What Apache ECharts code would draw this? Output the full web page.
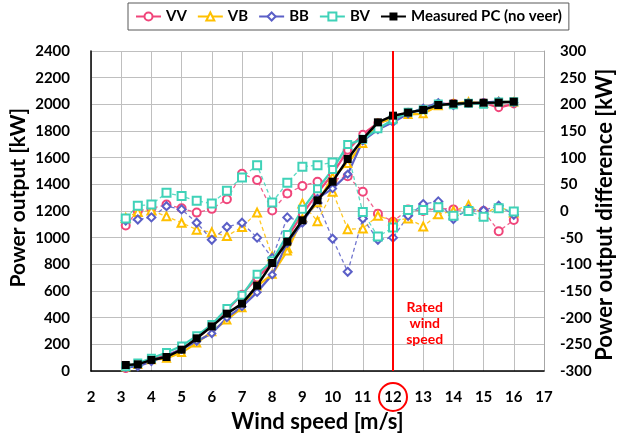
<!DOCTYPE html>
<html>
<head>
<meta charset="utf-8">
<script src="https://cdn.jsdelivr.net/npm/echarts@6/dist/echarts.min.js"></script>
<style>
  html, body { margin: 0; padding: 0; background: #fff; }
  #chart { width: 623px; height: 436px; }
</style>
</head>
<body>
<div id="chart"></div>
<script>
// Wind speed bins [m/s]
const windSpeed = [3.15, 3.55, 4.0, 4.5, 5.0, 5.5, 6.0, 6.5, 7.0, 7.5, 8.0, 8.5, 9.0, 9.5, 10.0, 10.5, 11.0, 11.5, 12.0, 12.5, 13.0, 13.5, 14.0, 14.5, 15.0, 15.5, 16.0];

// Power curves [kW]
const measuredPC = [45, 50, 83, 105, 160, 245, 335, 430, 505, 640, 810, 970, 1130, 1280, 1420, 1590, 1740, 1865, 1915, 1938, 1958, 1995, 2005, 2008, 2012, 2013, 2020];
const powerVV = [18, 50, 88, 117, 165, 242, 339, 452, 575, 698, 811, 1003, 1177, 1335, 1478, 1655, 1776, 1860, 1895, 1941, 1958, 2000, 2008, 2008, 2012, 1975, 2003];
const powerVB = [32, 48, 84, 95, 138, 210, 295, 383, 475, 637, 725, 900, 1144, 1261, 1456, 1556, 1707, 1856, 1897, 1924, 1929, 1989, 2005, 2019, 2007, 2021, 2017];
const powerBB = [27, 34, 71, 114, 163, 223, 281, 400, 483, 590, 722, 958, 1110, 1295, 1368, 1476, 1726, 1811, 1865, 1929, 1971, 2013, 1990, 2011, 2013, 2023, 2013];
const powerBV = [31, 60, 95, 139, 188, 264, 349, 468, 568, 726, 826, 1023, 1213, 1366, 1511, 1698, 1738, 1817, 1884, 1940, 1960, 2002, 1996, 2008, 2001, 2018, 2019];

// Difference to the measured power curve [kW]
const diffVV = [-27, 0, 5, 12, 5, -3, 4, 22, 70, 58, 1, 33, 47, 55, 58, 65, 36, -5, -20, 3, 0, 5, 3, 0, 0, -38, -17];
const diffVB = [-13, -2, 1, -10, -22, -35, -40, -47, -30, -3, -85, -70, 14, -19, 36, -34, -33, -9, -18, -14, -29, -6, 0, 11, -5, 8, -3];
const diffBB = [-18, -16, -12, 9, 3, -22, -54, -30, -22, -50, -88, -12, -20, 15, -52, -114, -14, -54, -50, -9, 13, 18, -15, 3, 1, 10, -7];
const diffBV = [-14, 10, 12, 34, 28, 19, 14, 38, 63, 86, 16, 53, 83, 86, 91, 108, -2, -48, -31, 2, 2, 7, -9, 0, -11, 5, -1];

const ratedWindSpeed = 12;

const FONT = 'Lato, "Open Sans", "Liberation Sans", sans-serif';
const COLORS = { VV: '#f0457a', VB: '#ffc000', BB: '#5b5fc7', BV: '#3fd2b8', PC: '#000000' };

const pairs = (ys) => windSpeed.map((x, i) => [x, ys[i]]);

function powerSeries(name, ys, symbol, color) {
  return {
    name, type: 'line', data: pairs(ys), xAxisIndex: 0, yAxisIndex: 0,
    symbol, symbolSize: 7, z: 3,
    lineStyle: { color, width: 2.2 },
    itemStyle: { color, borderColor: color, borderWidth: 1.5 },
    emphasis: { disabled: true }
  };
}
function diffSeries(name, ys, symbol, color) {
  return {
    name, type: 'line', data: pairs(ys), xAxisIndex: 0, yAxisIndex: 1,
    symbol, symbolSize: 8, z: 1,
    lineStyle: { color, width: 1.3, type: [4, 3], opacity: 0.85 },
    itemStyle: { color, borderColor: color, borderWidth: 1.5 },
    emphasis: { disabled: true }
  };
}

const chart = echarts.init(document.getElementById('chart'), null, { renderer: 'canvas' });

const axisLabelStyle = {
  color: '#000', fontFamily: FONT, fontWeight: 'bold', fontSize: 15,
  formatter: (v) => String(v)
};

chart.setOption({
  animation: false,
  backgroundColor: '#fff',
  textStyle: { fontFamily: FONT },
  grid: { left: 91, right: 79, top: 51, bottom: 65, containLabel: false, outerBoundsMode: 'none' },
  legend: {
    left: 128, top: 3,
    padding: [6, 7, 6, 7],
    borderColor: '#595959', borderWidth: 1,
    itemWidth: 25, itemHeight: 10, itemGap: 10,
    textStyle: { color: '#000', fontFamily: FONT, fontWeight: 'bold', fontSize: 15 },
    data: ['VV', 'VB', 'BB', 'BV', 'Measured PC (no veer)']
  },
  xAxis: {
    type: 'value', min: 2, max: 17, interval: 1,
    name: 'Wind speed [m/s]', nameLocation: 'middle', nameGap: 40,
    nameTextStyle: { color: '#000', fontFamily: FONT, fontWeight: 'bold', fontSize: 22 },
    axisLine: { show: true, onZero: false, lineStyle: { color: '#000', width: 1.5 } },
    axisTick: { show: false },
    axisLabel: Object.assign({ margin: 19 }, axisLabelStyle),
    splitLine: { show: true, lineStyle: { color: '#bfbfbf', width: 1 } }
  },
  yAxis: [
    {
      type: 'value', min: 0, max: 2400, interval: 200, position: 'left',
      axisLine: { show: true, lineStyle: { color: '#000', width: 1.5 } },
      axisTick: { show: false },
      axisLabel: Object.assign({ margin: 21 }, axisLabelStyle),
      splitLine: { show: true, lineStyle: { color: '#bfbfbf', width: 1 } }
    },
    {
      type: 'value', min: -300, max: 300, interval: 50, position: 'right',
      axisLine: { show: true, lineStyle: { color: '#a6a6a6', width: 1 } },
      axisTick: { show: false },
      axisLabel: Object.assign({ margin: 16 }, axisLabelStyle),
      splitLine: { show: false }
    }
  ],
  series: [
    powerSeries('VV', powerVV, 'emptyCircle', COLORS.VV),
    powerSeries('VB', powerVB, 'emptyTriangle', COLORS.VB),
    powerSeries('BB', powerBB, 'emptyDiamond', COLORS.BB),
    powerSeries('BV', powerBV, 'emptyRect', COLORS.BV),
    diffSeries('VV', diffVV, 'emptyCircle', COLORS.VV),
    diffSeries('VB', diffVB, 'emptyTriangle', COLORS.VB),
    diffSeries('BB', diffBB, 'emptyDiamond', COLORS.BB),
    diffSeries('BV', diffBV, 'emptyRect', COLORS.BV),
    {
      name: 'Measured PC (no veer)', type: 'line', data: pairs(measuredPC),
      xAxisIndex: 0, yAxisIndex: 0, z: 4,
      symbol: 'rect', symbolSize: 8,
      lineStyle: { color: COLORS.PC, width: 2.5 },
      itemStyle: { color: COLORS.PC },
      emphasis: { disabled: true },
      markLine: {
        silent: true, symbol: 'none', animation: false,
        label: { show: false },
        lineStyle: { color: '#ff0000', width: 2, type: 'solid' },
        data: [{ xAxis: ratedWindSpeed }]
      }
    }
  ]
});

// Annotations placed through the axis scales
const base = chart.convertToPixel({ xAxisIndex: 0, yAxisIndex: 0 }, [ratedWindSpeed, 0]);
const textPos = chart.convertToPixel({ xAxisIndex: 0, yAxisIndex: 0 }, [13.05, 360]);
const leftMid = chart.convertToPixel({ xAxisIndex: 0, yAxisIndex: 0 }, [2, 1300]);
const rightMid = chart.convertToPixel({ xAxisIndex: 0, yAxisIndex: 1 }, [17, -7]);

chart.setOption({
  graphic: [
    {
      type: 'circle', z: 10,
      shape: { cx: base[0], cy: base[1] + 26, r: 14 },
      style: { fill: 'none', stroke: '#ff0000', lineWidth: 2 }
    },
    {
      type: 'text', z: 10, x: textPos[0], y: textPos[1],
      style: {
        text: 'Rated\nwind\nspeed', fill: '#ff0000',
        font: 'bold 14px ' + FONT, lineHeight: 16,
        align: 'center', verticalAlign: 'middle'
      }
    },
    {
      type: 'text', z: 10, x: leftMid[0] - 73, y: leftMid[1], rotation: Math.PI / 2,
      style: {
        text: 'Power output [kW]', fill: '#000',
        font: 'bold 21px ' + FONT, align: 'center', verticalAlign: 'middle'
      }
    },
    {
      type: 'text', z: 10, x: rightMid[0] + 61, y: rightMid[1], rotation: Math.PI / 2,
      style: {
        text: 'Power output difference [kW]', fill: '#000',
        font: 'bold 22px ' + FONT, align: 'center', verticalAlign: 'middle'
      }
    }
  ]
});
</script>
</body>
</html>
